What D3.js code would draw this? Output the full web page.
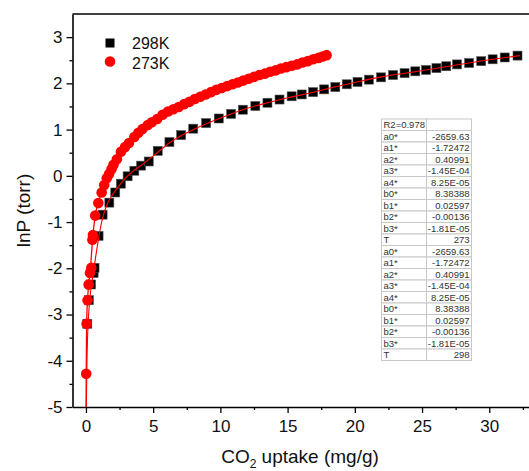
<!DOCTYPE html>
<html lang="en">
<head>
<meta charset="UTF-8">
<title>Virial fit CO2</title>
<script src="https://d3js.org/d3.v7.min.js"></script>
<style>
  body { margin: 0; background: #fff; }
  svg text { font-family: "Liberation Sans", Arial, sans-serif; }
</style>
</head>
<body>
<div id="chart"></div>
<script>
// 298K points (uptake mg/g, lnP)
const x298 = [0.1, 0.22, 0.38, 0.57, 0.64, 0.94, 1.24, 1.74, 2.18, 2.6, 3.1, 3.6, 4.1, 4.67, 5.34, 6.21, 7.08, 7.98, 8.94, 9.88,
  10.8, 11.67, 12.6, 13.5, 14.4, 15.3, 16.05, 16.9, 17.72, 18.55, 19.4, 20.2, 21.05, 21.95, 22.85, 23.7, 24.5, 25.3,
  26.07, 26.8, 27.6, 28.5, 29.4, 30.25, 31.15, 32.1];
const y298 = [-3.2, -2.69, -2.35, -2.1, -1.99, -1.3, -0.84, -0.58, -0.36, -0.17, -0.01, 0.11, 0.22, 0.31, 0.54, 0.73, 0.88, 1.02, 1.14, 1.24,
  1.34, 1.43, 1.51, 1.58, 1.65, 1.72, 1.76, 1.81, 1.87, 1.92, 1.98, 2.03, 2.08, 2.13, 2.18, 2.22, 2.26, 2.29,
  2.33, 2.37, 2.41, 2.44, 2.48, 2.52, 2.56, 2.6];

// 273K points
const x273 = [0.02, 0.05, 0.12, 0.2, 0.3, 0.4, 0.48, 0.52, 0.69, 0.92, 1.17, 1.36, 1.55, 1.72, 1.9, 2.05, 2.3, 2.6, 2.9, 3.2,
  3.6, 3.9, 4.2, 4.6, 4.9, 5.3, 5.7, 6.1, 6.5, 6.9, 7.3, 7.7, 8.1, 8.5, 8.9, 9.3, 9.7, 10.1, 10.5, 10.9, 11.3, 11.7,
  12.1, 12.5, 12.9, 13.3, 13.7, 14.1, 14.5, 14.9, 15.3, 15.7, 16.1, 16.5, 16.9, 17.3, 17.6, 17.9];
const y273 = [-4.28, -3.2, -2.69, -2.35, -2.1, -1.99, -1.38, -1.28, -0.86, -0.59, -0.36, -0.2, -0.05, 0.04, 0.14, 0.24, 0.36, 0.52, 0.62, 0.71,
  0.84, 0.93, 1.01, 1.1, 1.16, 1.23, 1.32, 1.39, 1.44, 1.49, 1.55, 1.6, 1.66, 1.71, 1.76, 1.81, 1.86, 1.9, 1.94, 1.98, 2.02, 2.06,
  2.1, 2.14, 2.18, 2.21, 2.25, 2.28, 2.32, 2.35, 2.38, 2.41, 2.45, 2.48, 2.52, 2.55, 2.58, 2.61];

// fitted curves
const fit298x = [0.03, 0.06, 0.12, 0.2, 0.35, 0.55, 0.75, 1.0, 1.25, 1.6, 2.0, 2.5, 3.0, 3.6, 4.3, 5.3, 6.2, 7.1, 8.0, 9.0,
  10, 11, 12, 13.5, 15, 16.5, 18, 20, 22, 24, 26, 28, 30, 32.3];
const fit298y = [-5, -4.3, -3.5, -3.0, -2.5, -2.1, -1.7, -1.25, -0.9, -0.6, -0.4, -0.2, -0.03, 0.12, 0.27, 0.5, 0.71, 0.87, 1.0, 1.13,
  1.25, 1.36, 1.46, 1.58, 1.69, 1.78, 1.89, 2.02, 2.14, 2.23, 2.32, 2.42, 2.51, 2.6];
const fit273x = [0.01, 0.02, 0.05, 0.12, 0.2, 0.3, 0.4, 0.5, 0.69, 0.92, 1.17, 1.5, 2.0, 2.6, 3.2, 4.2, 5.3, 6.5, 8.1, 9.7,
  11.3, 12.9, 14.5, 16.1, 17.9];
const fit273y = [-5, -4.28, -3.2, -2.69, -2.35, -2.1, -1.75, -1.35, -0.86, -0.57, -0.36, -0.1, 0.2, 0.5, 0.71, 1.0, 1.23, 1.44, 1.66, 1.86,
  2.02, 2.18, 2.32, 2.45, 2.61];

const tableLabels = ["R2=0.978", "a0*", "a1*", "a2*", "a3*", "a4*", "b0*", "b1*", "b2*", "b3*", "T",
  "a0*", "a1*", "a2*", "a3*", "a4*", "b0*", "b1*", "b2*", "b3*", "T"];
const tableValues = ["", "-2659.63", "-1.72472", "0.40991", "-1.45E-04", "8.25E-05", "8.38388", "0.02597", "-0.00136", "-1.81E-05", "273",
  "-2659.63", "-1.72472", "0.40991", "-1.45E-04", "8.25E-05", "8.38388", "0.02597", "-0.00136", "-1.81E-05", "298"];

const legendNames = ["298K", "273K"];

const W = 529, H = 471;
const padL = 72.5, padR = 529.6, padT = 14, padB = 407;

const svg = d3.select("#chart").append("svg")
  .attr("width", W).attr("height", H);

const xScale = d3.scaleLinear().domain([-1, 33]).range([padL, padR]);
const yScale = d3.scaleLinear().domain([-5, 3.5]).range([padB, padT]);

const fmt = d => String(d);

// axes
const xAxis = svg.append("g").attr("transform", `translate(0,${padB})`)
  .call(d3.axisBottom(xScale).tickValues(d3.range(0, 31, 5)).tickSize(6).tickSizeOuter(0).tickFormat(fmt));
svg.append("g").attr("transform", `translate(0,${padB})`)
  .call(d3.axisBottom(xScale).tickValues(d3.range(2.5, 33, 5)).tickSize(3).tickFormat(""))
  .select(".domain").remove();
const yAxis = svg.append("g").attr("transform", `translate(${padL},0)`)
  .call(d3.axisLeft(yScale).tickValues(d3.range(-5, 4, 1)).tickSize(6).tickSizeOuter(0).tickFormat(fmt));
svg.append("g").attr("transform", `translate(${padL},0)`)
  .call(d3.axisLeft(yScale).tickValues(d3.range(-4.5, 3.5, 1)).tickSize(3).tickFormat(""))
  .select(".domain").remove();

svg.selectAll(".tick line").attr("stroke", "#000").attr("stroke-width", 1.3);
svg.selectAll(".domain").attr("stroke", "#000").attr("stroke-width", 1.6);
xAxis.selectAll("text").attr("font-size", 17).attr("fill", "#111").attr("dy", "0.95em");
yAxis.selectAll("text").attr("font-size", 17).attr("fill", "#111").attr("x", -10);

// top frame line
svg.append("line")
  .attr("x1", padL).attr("x2", W).attr("y1", padT).attr("y2", padT)
  .attr("stroke", "#000").attr("stroke-width", 1.6);

// axis titles
const xt = svg.append("text")
  .attr("x", 300).attr("y", 463)
  .attr("text-anchor", "middle").attr("font-size", 19).attr("fill", "#111");
xt.append("tspan").text("CO");
xt.append("tspan").text("2").attr("font-size", 12).attr("dy", 5);
xt.append("tspan").text(" uptake (mg/g)").attr("dy", -5);

svg.append("text")
  .attr("transform", `translate(30,${(padT + padB) / 2}) rotate(-90)`)
  .attr("text-anchor", "middle").attr("font-size", 19).attr("fill", "#111")
  .text("lnP (torr)");

svg.append("clipPath").attr("id", "plotclip")
  .append("rect").attr("x", padL).attr("y", padT).attr("width", padR - padL).attr("height", padB - padT);

const plot = svg.append("g").attr("clip-path", "url(#plotclip)");

const line = d3.line().x(d => xScale(d[0])).y(d => yScale(d[1])).curve(d3.curveMonotoneX);

// 298K squares
const side = 9;
plot.selectAll("rect.p298")
  .data(d3.zip(x298, y298))
  .enter().append("rect")
  .attr("class", "p298")
  .attr("x", d => xScale(d[0]) - side / 2)
  .attr("y", d => yScale(d[1]) - side / 2)
  .attr("width", side).attr("height", side)
  .attr("fill", "#000").attr("stroke", "#555").attr("stroke-width", 0.6);

plot.append("path")
  .datum(d3.zip(fit298x, fit298y))
  .attr("d", line)
  .attr("fill", "none").attr("stroke", "#f00").attr("stroke-width", 1.1);

// 273K circles
plot.selectAll("circle.p273")
  .data(d3.zip(x273, y273))
  .enter().append("circle")
  .attr("class", "p273")
  .attr("cx", d => xScale(d[0])).attr("cy", d => yScale(d[1]))
  .attr("r", 5.3)
  .attr("fill", "#f00");

plot.append("path")
  .datum(d3.zip(fit273x, fit273y))
  .attr("d", line)
  .attr("fill", "none").attr("stroke", "#f00").attr("stroke-width", 1.3);

// legend
const lg = svg.append("g");
lg.append("rect").attr("x", 105.5).attr("y", 38.5).attr("width", 9).attr("height", 9).attr("fill", "#000");
lg.append("circle").attr("cx", 110).attr("cy", 61.5).attr("r", 5.3).attr("fill", "#f00");
lg.selectAll("text").data(legendNames).enter().append("text")
  .attr("x", 132).attr("y", (d, i) => 49 + i * 19.5)
  .attr("font-size", 16).attr("fill", "#111")
  .text(d => d);

// parameter table
const tx0 = 381.5, tx1 = 426.5, tx2 = 471.5, ty0 = 119, rowH = 11.5;
const tbl = svg.append("g");
const rows = tbl.selectAll("g.row").data(tableLabels).enter().append("g")
  .attr("transform", (d, i) => `translate(0,${ty0 + i * rowH})`);
rows.append("rect").attr("x", tx0).attr("width", tx1 - tx0).attr("height", rowH)
  .attr("fill", "#fff").attr("stroke", "#c8c8c8").attr("stroke-width", 1);
rows.append("rect").attr("x", tx1).attr("width", tx2 - tx1).attr("height", rowH)
  .attr("fill", "#fff").attr("stroke", "#c8c8c8").attr("stroke-width", 1);
rows.append("text").attr("x", tx0 + 2).attr("y", rowH - 2.2)
  .attr("font-size", 9.5).attr("fill", "#333").text(d => d);
rows.append("text").attr("x", tx2 - 2).attr("y", rowH - 2.2)
  .attr("text-anchor", "end").attr("font-size", 9.5).attr("fill", "#333")
  .text((d, i) => tableValues[i]);
</script>
</body>
</html>
